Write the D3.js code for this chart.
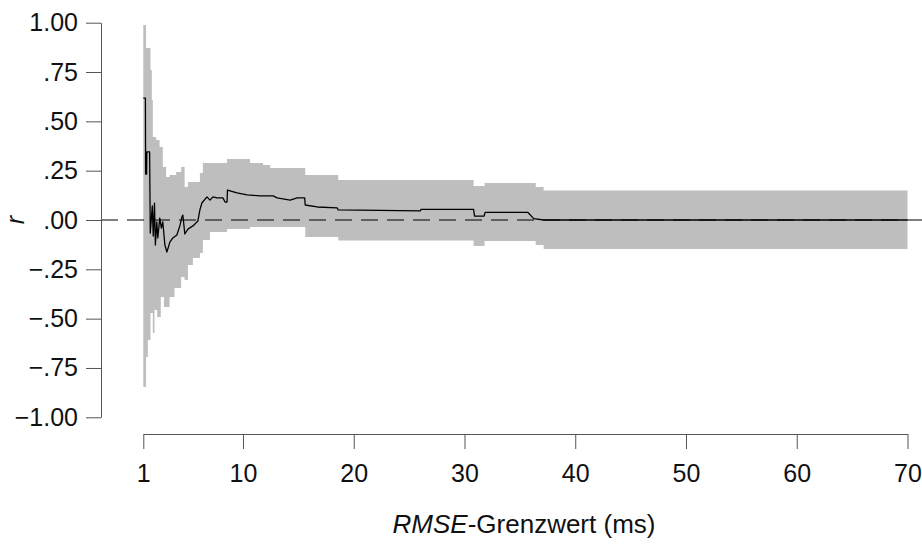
<!DOCTYPE html>
<html><head><meta charset="utf-8">
<script src="https://cdn.jsdelivr.net/npm/d3@7"></script>
<style>
body{margin:0;background:#fff;}
svg{display:block;}
text{font-family:"Liberation Sans",Arial,sans-serif;}
</style></head>
<body>
<svg id="chart" width="922" height="545"></svg>
<script>
// RMSE threshold (ms) and correlation r
const lineX = [1.00,1.19,1.21,1.30,1.32,1.57,1.63,1.81,1.90,2.01,2.09,2.22,2.31,2.49,2.63,2.76,2.95,3.13,3.40,3.67,4.03,4.30,4.48,4.57,4.75,5.03,5.48,5.93,6.11,6.29,6.75,7.02,7.29,7.65,8.19,8.38,8.56,8.60,9.46,10.37,11.54,12.72,13.08,14.26,14.89,15.57,15.62,16.70,18.51,18.60,26.02,26.07,30.82,30.91,31.77,31.86,35.71,36.25,37.15,70];
const lineR = [0.618,0.618,0.233,0.233,0.345,0.345,-0.066,0.071,-0.081,0.086,-0.127,-0.010,-0.091,0.010,-0.041,-0.010,-0.127,-0.162,-0.112,-0.091,-0.076,-0.030,0.015,0.025,-0.071,-0.046,-0.030,-0.005,0.051,0.086,0.117,0.101,0.117,0.112,0.112,0.091,0.091,0.152,0.137,0.127,0.122,0.122,0.112,0.101,0.112,0.112,0.076,0.066,0.061,0.051,0.046,0.054,0.054,0.020,0.020,0.039,0.039,0.007,0.000,0.000];

// confidence band (step-after)
const bandX  = [1.00,1.25,1.41,1.65,1.77,1.86,2.01,2.16,2.25,2.47,2.58,2.76,2.86,3.06,3.37,3.82,3.97,4.42,4.73,5.03,5.48,6.11,6.38,7.02,8.56,10.64,11.81,12.45,15.62,18.60,30.82,31.81,35.71,36.43,37.15,70];
const bandLo = [-0.846,-0.694,-0.608,-0.471,-0.471,-0.573,-0.456,-0.456,-0.492,-0.492,-0.390,-0.390,-0.441,-0.441,-0.390,-0.345,-0.345,-0.289,-0.304,-0.228,-0.193,-0.167,-0.101,-0.061,-0.046,-0.035,-0.035,-0.035,-0.086,-0.104,-0.132,-0.106,-0.106,-0.127,-0.147,-0.147];
const bandHi = [0.988,0.872,0.872,0.760,0.608,0.421,0.421,0.405,0.405,0.370,0.370,0.269,0.269,0.218,0.228,0.228,0.243,0.269,0.167,0.193,0.193,0.238,0.289,0.289,0.309,0.289,0.279,0.264,0.228,0.203,0.172,0.188,0.188,0.167,0.150,0.150];

const yTicks = [1,0.75,0.5,0.25,0,-0.25,-0.5,-0.75,-1];
const yTickLabels = ["1.00",".75",".50",".25",".00","\u2212.25","\u2212.50","\u2212.75","\u22121.00"];
const xTicks = [1,10,20,30,40,50,60,70];
const xTickLabels = ["1","10","20","30","40","50","60","70"];

const FONT = "'Liberation Sans',Arial,sans-serif";
const svg = d3.select("#chart");
const x = d3.scaleLinear().domain([1,70]).range([143.3,907.5]);
const y = d3.scaleLinear().domain([-1,1]).range([417.3,22.7]);
const AX = 101;

const band = bandX.map((v,i)=>({x:v,lo:bandLo[i],hi:bandHi[i]}));
svg.append("path").datum(band)
  .attr("fill","#bebebe")
  .attr("d", d3.area().curve(d3.curveStepAfter).x(d=>x(d.x)).y0(d=>y(d.lo)).y1(d=>y(d.hi)));

// zero dashed reference line
svg.append("line").attr("x1",AX).attr("x2",922).attr("y1",y(0)).attr("y2",y(0))
  .attr("stroke","#000").attr("stroke-width",1.2).attr("stroke-dasharray","17,9");

const line = lineX.map((v,i)=>({x:v,r:lineR[i]}));
svg.append("path").datum(line)
  .attr("fill","none").attr("stroke","#000").attr("stroke-width",1.3)
  .attr("stroke-linejoin","round")
  .attr("d", d3.line().x(d=>x(d.x)).y(d=>y(d.r)));

// y axis
const ya = svg.append("g").attr("transform",`translate(${AX},0)`)
  .call(d3.axisLeft(y).tickValues(yTicks).tickFormat((d,i)=>yTickLabels[i]).tickSize(15).tickSizeOuter(0).tickPadding(8));
ya.selectAll("text").attr("font-size",25).attr("fill","#111").attr("font-family",FONT);
ya.selectAll("line,path").attr("stroke","#555");

// x axis
const xa = svg.append("g").attr("transform","translate(0,434)")
  .call(d3.axisBottom(x).tickValues(xTicks).tickFormat((d,i)=>xTickLabels[i]).tickSize(15).tickSizeOuter(0).tickPadding(15));
xa.selectAll("text").attr("font-size",25).attr("fill","#111").attr("font-family",FONT);
xa.selectAll("line,path").attr("stroke","#555");

// titles
const xt = svg.append("text").attr("x",524).attr("y",533).attr("text-anchor","middle")
  .attr("font-size",26).attr("fill","#111");
xt.append("tspan").attr("font-style","italic").text("RMSE");
xt.append("tspan").text("-Grenzwert (ms)");

svg.append("text").attr("transform","translate(24,220) rotate(-90)").attr("text-anchor","middle")
  .attr("font-size",25).attr("font-style","italic").attr("fill","#111").text("r");
</script>
</body></html>
